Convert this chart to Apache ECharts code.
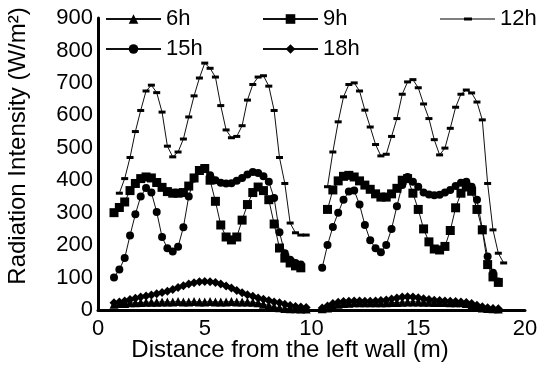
<!DOCTYPE html>
<html><head><meta charset="utf-8">
<script src="https://cdn.jsdelivr.net/npm/echarts@6/dist/echarts.min.js"></script>
<style>html,body{margin:0;padding:0;background:#fff}#c{width:544px;height:383px}</style>
</head><body><div id="c"></div>
<script>
// distance from left wall (m); 10 is the gap between the two buildings
const distance = [0.75,1.0,1.25,1.5,1.75,2.0,2.25,2.5,2.75,3.0,3.25,3.5,3.75,4.0,4.25,4.5,4.75,5.0,5.25,5.5,5.75,6.0,6.25,6.5,6.75,7.0,7.25,7.5,7.75,8.0,8.25,8.5,8.75,9.0,9.25,9.5,9.75,
  10,
  10.5,10.75,11.0,11.25,11.5,11.75,12.0,12.25,12.5,12.75,13.0,13.25,13.5,13.75,14.0,14.25,14.5,14.75,15.0,15.25,15.5,15.75,16.0,16.25,16.5,16.75,17.0,17.25,17.5,17.75,18.0,18.25,18.5,18.75,19.0];

const h6 = [18,20,20,22,22,23,24,24,24,25,25,25,26,25,25,26,25,25,26,25,25,25,26,25,25,25,24,22,18,14,10,7,5,4,4,3,3,
  null,
  4,6,12,18,20,21,22,22,22,22,22,22,22,23,23,24,25,25,25,24,24,23,23,23,22,22,22,20,15,10,6,5,4,3,null];
const h9 = [300,316,333,368,390,405,410,407,393,378,365,360,360,362,382,407,430,436,400,335,262,225,216,225,277,325,362,379,368,340,265,191,160,145,136,130,null,
  null,
  null,310,370,398,412,415,410,398,385,372,358,348,348,358,375,400,405,360,310,250,210,188,185,196,245,315,360,379,366,310,247,140,102,85,null];
const h12 = [null,360,405,470,550,615,675,693,670,610,505,472,487,527,595,660,715,761,745,718,630,555,531,535,568,647,695,718,722,690,615,470,390,268,238,231,231,
  null,
  null,380,487,580,657,695,700,675,616,564,510,475,480,535,590,665,703,710,685,635,590,525,478,499,560,625,665,678,669,641,586,390,247,175,145];
const h15 = [100,125,160,230,295,350,376,362,302,225,190,180,195,255,350,405,430,438,415,400,392,390,391,398,407,418,425,422,412,395,345,240,175,155,145,140,null,
  null,
  130,200,256,300,340,365,368,325,262,215,190,178,200,250,320,385,410,395,380,362,356,354,355,362,370,382,392,395,380,340,250,165,115,88,null];
const h18 = [22,25,28,32,36,40,43,46,50,54,58,63,69,75,80,84,87,88,87,85,80,74,68,60,53,47,42,37,33,29,25,22,18,14,11,9,8,
  null,
  6,12,20,24,26,27,28,28,27,27,28,29,31,34,37,40,41,40,38,35,32,30,29,28,27,26,25,23,20,15,10,7,5,4,null];

const seriesNames = ['6h','9h','12h','15h','18h'];
const xTicks = [0,5,10,15,20];
const yTicks = [0,100,200,300,400,500,600,700,800,900];

const FONT = 'Liberation Sans, Arial, sans-serif';
function pairs(v){ return distance.map((x,i)=>[x, v[i]==null ? '-' : v[i]]); }

const chart = echarts.init(document.getElementById('c'), null, {renderer:'canvas'});

function mkSeries(name, vals, symbol, size){
  return {
    name, type:'line', data: pairs(vals), symbol, symbolSize: size,
    showAllSymbol:true, connectNulls:false, z: 2,
    lineStyle:{color:'#111', width:1}, itemStyle:{color:'#000'},
    animation:false
  };
}

const legText = {fontSize:22, color:'#000', fontFamily:FONT};
const legBase = {itemWidth:55, itemHeight:12, itemGap:6, textStyle:legText, selectedMode:false, padding:0};

chart.setOption({
  animation:false,
  backgroundColor:'#fff',
  grid:{left:98, right:19, top:18, bottom:73},
  legend:[
    Object.assign({data:[seriesNames[0]], left:105, top:8}, legBase),
    Object.assign({data:[seriesNames[1]], left:262, top:8}, legBase),
    Object.assign({data:[{name:seriesNames[2], icon:'path://M0,5.5h55v1h-55z M24,4.5h8v3h-8z'}], left:440, top:8}, legBase),
    Object.assign({data:[seriesNames[3]], left:105, top:38}, legBase),
    Object.assign({data:[seriesNames[4]], left:262, top:38}, legBase)
  ],
  xAxis:{
    type:'value', min:xTicks[0], max:xTicks[xTicks.length-1], interval:5,
    axisLine:{show:true, onZero:false, lineStyle:{color:'#000', width:3}},
    axisTick:{show:false}, splitLine:{show:false},
    axisLabel:{fontSize:22, color:'#000', fontFamily:FONT, margin:8}
  },
  yAxis:{
    type:'value', min:yTicks[0], max:yTicks[yTicks.length-1], interval:100,
    axisLine:{show:true, lineStyle:{color:'#000', width:3}},
    axisTick:{show:false}, splitLine:{show:false},
    axisLabel:{fontSize:22, color:'#000', fontFamily:FONT, margin:5}
  },
  graphic:[
    {type:'text', x:290, y:350, style:{text:'Distance from the left wall (m)', font:'24px '+FONT, fill:'#000', textAlign:'center', textVerticalAlign:'middle'}},
    {type:'text', x:18, y:146, rotation:Math.PI/2, style:{text:'Radiation Intensity (W/m²)', font:'24px '+FONT, fill:'#000', textAlign:'center', textVerticalAlign:'middle'}}
  ],
  series:[
    mkSeries(seriesNames[0], h6, 'triangle', 9),
    mkSeries(seriesNames[1], h9, 'rect', 9),
    mkSeries(seriesNames[2], h12, 'rect', [7,3]),
    mkSeries(seriesNames[3], h15, 'circle', 8),
    mkSeries(seriesNames[4], h18, 'diamond', 9)
  ]
});
</script>
</body></html>
